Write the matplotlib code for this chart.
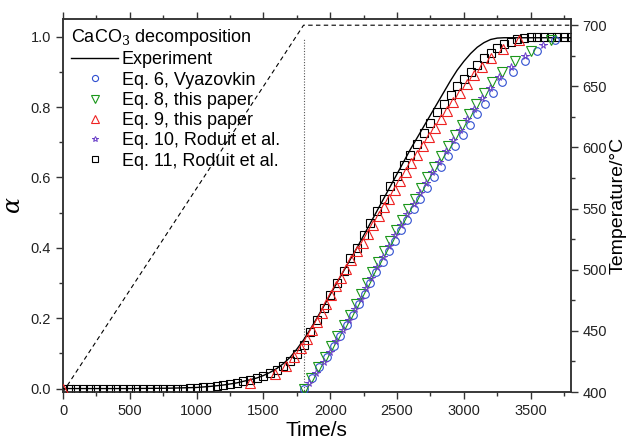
import matplotlib
matplotlib.use('Agg')
import matplotlib.pyplot as plt
from matplotlib.ticker import MultipleLocator

plt.rcParams['font.family'] = ['Liberation Sans', 'DejaVu Sans']
plt.rcParams['mathtext.fontset'] = 'dejavuserif'

# ---- experiment (solid line)
t_exp = [0, 500, 800, 1000, 1100, 1200, 1300, 1400, 1450, 1500, 1550, 1600, 1650,
         1700, 1750, 1800, 1850, 1900, 1950, 2000, 2100, 2200, 2300, 2400, 2500,
         2600, 2700, 2800, 2900, 2950, 3000, 3050, 3100, 3150, 3200, 3250, 3300, 3800]
a_exp = [0.0, 0.0, 0.001, 0.003, 0.006, 0.010, 0.016, 0.025, 0.030, 0.037, 0.046,
         0.057, 0.071, 0.089, 0.112, 0.138, 0.168, 0.200, 0.233, 0.267, 0.334, 0.400,
         0.470, 0.540, 0.610, 0.680, 0.745, 0.810, 0.875, 0.905, 0.930, 0.952, 0.970,
         0.983, 0.992, 0.996, 0.997, 0.997]

# ---- Eq. 6, Vyazovkin (circles)
t_eq6 = [1800, 1860, 1918, 1973, 2025, 2075, 2123, 2169, 2214, 2257, 2300, 2346,
         2392, 2438, 2485, 2531, 2577, 2625, 2675, 2725, 2775, 2827, 2882, 2936,
         2991, 3045, 3100, 3160, 3220, 3289, 3371, 3457, 3550, 3679]
a_eq6 = [0.00, 0.03, 0.06, 0.09, 0.12, 0.15, 0.18, 0.21, 0.24, 0.27, 0.30, 0.33,
         0.36, 0.39, 0.42, 0.45, 0.48, 0.51, 0.54, 0.57, 0.60, 0.63, 0.66, 0.69,
         0.72, 0.75, 0.78, 0.81, 0.84, 0.87, 0.90, 0.93, 0.96, 0.99]

# ---- Eq. 8, this paper (down triangles)
t_eq8 = [1800, 1855, 1909, 1962, 2008, 2054, 2100, 2146, 2192, 2233, 2273, 2314,
         2357, 2400, 2446, 2492, 2538, 2585, 2631, 2677, 2725, 2775, 2827, 2882,
         2933, 2983, 3036, 3091, 3150, 3212, 3288, 3383, 3500, 3650]
a_eq8 = [0.00, 0.03, 0.06, 0.09, 0.12, 0.15, 0.18, 0.21, 0.24, 0.27, 0.30, 0.33,
         0.36, 0.39, 0.42, 0.45, 0.48, 0.51, 0.54, 0.57, 0.60, 0.63, 0.66, 0.69,
         0.72, 0.75, 0.78, 0.81, 0.84, 0.87, 0.90, 0.93, 0.96, 0.99]

# ---- Eq. 9, this paper (up triangles)
t_eq9 = [0, 1400, 1583, 1667, 1730, 1780, 1823, 1862, 1900, 1936, 1971, 2007, 2043,
         2079, 2117, 2158, 2200, 2242, 2283, 2323, 2362, 2400, 2442, 2483, 2525,
         2567, 2608, 2650, 2692, 2736, 2782, 2827, 2873, 2920, 2970, 3022, 3078,
         3138, 3200, 3296, 3409]
a_eq9 = [0.0, 0.015, 0.040, 0.065, 0.090, 0.115, 0.140, 0.165, 0.190, 0.215, 0.240,
         0.265, 0.290, 0.315, 0.340, 0.365, 0.390, 0.415, 0.440, 0.465, 0.490, 0.515,
         0.540, 0.565, 0.590, 0.615, 0.640, 0.665, 0.690, 0.715, 0.740, 0.765, 0.790,
         0.815, 0.840, 0.865, 0.890, 0.915, 0.940, 0.965, 0.990]

# ---- Eq. 10, Roduit et al. (stars)
t_eq10 = [1843, 1897, 1950, 2000, 2046, 2092, 2138, 2184, 2227, 2268, 2308, 2350,
          2393, 2438, 2484, 2530, 2576, 2623, 2669, 2716, 2765, 2816, 2869, 2922,
          2973, 3024, 3078, 3135, 3196, 3265, 3350, 3456, 3590]
a_eq10 = [0.015, 0.045, 0.075, 0.105, 0.135, 0.165, 0.195, 0.225, 0.255, 0.285,
          0.315, 0.345, 0.375, 0.405, 0.435, 0.465, 0.495, 0.525, 0.555, 0.585,
          0.615, 0.645, 0.675, 0.705, 0.735, 0.765, 0.795, 0.825, 0.855, 0.885,
          0.915, 0.945, 0.975]

# ---- Eq. 11, Roduit et al. (squares, every 50 s)
t_eq11 = [0, 50, 100, 150, 200, 250, 300, 350, 400, 450, 500, 550, 600, 650, 700,
          750, 800, 850, 900, 950, 1000, 1050, 1100, 1150, 1200, 1250, 1300, 1350,
          1400, 1450, 1500, 1550, 1600, 1650, 1700, 1750, 1800, 1850, 1900, 1950,
          2000, 2050, 2100, 2150, 2200, 2250, 2300, 2350, 2400, 2450, 2500, 2550,
          2600, 2650, 2700, 2750, 2800, 2850, 2900, 2950, 3000, 3050, 3100, 3150,
          3200, 3250, 3300, 3350, 3400, 3450, 3500, 3550, 3600, 3650, 3700, 3750, 3800]
a_eq11 = [0.0, 0.0, 0.0, 0.0, 0.0, 0.0, 0.0, 0.0, 0.0, 0.0, 0.0, 0.0, 0.0, 0.0, 0.0,
          0.0, 0.0, 0.0, 0.0, 0.001, 0.002, 0.003, 0.005, 0.007, 0.010, 0.013, 0.017,
          0.021, 0.025, 0.030, 0.036, 0.043, 0.052, 0.063, 0.077, 0.097, 0.125, 0.160,
          0.195, 0.230, 0.265, 0.300, 0.335, 0.370, 0.400, 0.435, 0.470, 0.505, 0.540,
          0.575, 0.605, 0.635, 0.665, 0.695, 0.725, 0.755, 0.785, 0.810, 0.835, 0.860,
          0.880, 0.900, 0.920, 0.940, 0.955, 0.968, 0.978, 0.986, 0.992, 0.996, 0.998,
          0.998, 0.998, 0.998, 0.998, 0.998, 0.998]

# ---- temperature programme (right axis)
t_prog = [0, 1800, 3800]
T_prog = [400, 700, 700]
t_iso = 1800
a_iso_top = 0.995

fig = plt.figure(figsize=(6.3, 4.44), dpi=100)
ax = fig.add_axes([0.100, 0.117, 0.806, 0.840])
ax2 = ax.twinx()

ms = 5.5
mew = 0.8
ax.plot(t_exp, a_exp, '-', color='black', lw=1.0, label='Experiment', zorder=3)
ax.plot(t_eq6, a_eq6, 'o', mfc='none', mec='#2f4fd0', ms=ms, mew=mew,
        label='Eq. 6, Vyazovkin', zorder=4)
ax.plot(t_eq8, a_eq8, 'v', mfc='none', mec='#1a961a', ms=ms + 1, mew=mew,
        label='Eq. 8, this paper', zorder=5)
ax.plot(t_eq9, a_eq9, '^', mfc='none', mec='#ee2222', ms=ms + 1, mew=mew,
        label='Eq. 9, this paper', zorder=5)
ax.plot(t_eq10, a_eq10, '*', mfc='none', mec='#6a3fc8', ms=ms, mew=0.7,
        label='Eq. 10, Roduit et al.', zorder=6)
ax.plot(t_eq11, a_eq11, 's', mfc='none', mec='black', ms=ms - 0.3, mew=mew,
        label='Eq. 11, Roduit et al.', zorder=2)
ax.vlines(t_iso, -0.02, a_iso_top, colors='#555555', linestyles=(0, (1, 1.5)), lw=0.8)

ax2.plot(t_prog, T_prog, color='black', lw=0.8, ls=(0, (4, 3)))

ax.set_xlim(0, 3800)
ax.set_ylim(-0.01, 1.05)
ax2.set_ylim(400, 705)

ax.xaxis.set_major_locator(MultipleLocator(500))
ax.xaxis.set_minor_locator(MultipleLocator(250))
ax.yaxis.set_major_locator(MultipleLocator(0.2))
ax.yaxis.set_minor_locator(MultipleLocator(0.1))
ax.yaxis.set_major_formatter(matplotlib.ticker.FormatStrFormatter('%.1f'))
ax2.yaxis.set_major_locator(MultipleLocator(50))
ax2.yaxis.set_minor_locator(MultipleLocator(25))

ax.tick_params(which='both', direction='out', labelsize=10.5, top=True, right=False,
               color='#333333', labelcolor='#222222')
ax.tick_params(which='major', length=5, width=1)
ax.tick_params(which='minor', length=3, width=1)
ax2.tick_params(which='both', direction='out', labelsize=10.5, color='#333333',
                labelcolor='#222222')
ax2.tick_params(which='major', length=5, width=1)
ax2.tick_params(which='minor', length=3, width=1)
for a in (ax, ax2):
    for s in a.spines.values():
        s.set_linewidth(1.1)
        s.set_color('#333333')

ax.set_xlabel('Time/s', fontsize=15, labelpad=2)
ax.set_ylabel(r'$\alpha$', fontsize=17, labelpad=4)
ax2.set_ylabel('Temperature/°C', fontsize=14, labelpad=2)

leg = ax.legend(loc='upper left', frameon=False, fontsize=13,
                title=r'CaCO$_3$ decomposition', title_fontsize=13,
                alignment='left', handlelength=2.6, handletextpad=0.2,
                labelspacing=0.18, borderaxespad=0.35, borderpad=0.1, numpoints=1,
                markerscale=0.8)
leg.set_zorder(10)
ax.set_zorder(ax2.get_zorder() + 1)
ax.patch.set_visible(False)

fig.savefig('out.png', dpi=100)
